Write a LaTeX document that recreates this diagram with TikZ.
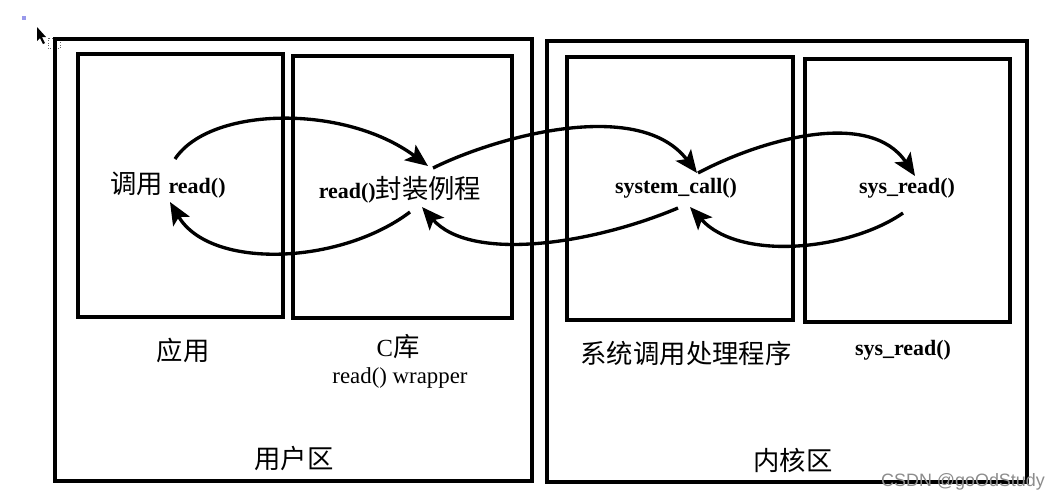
\documentclass[tikz,border=0pt]{standalone}
\usepackage{fontspec}
\setmainfont{Liberation Serif}
\newfontfamily\cjk{Noto Sans CJK SC}
\newfontfamily\wmfont{Liberation Sans}
\usetikzlibrary{arrows.meta}
\begin{document}
\begin{tikzpicture}[x=0.02cm,y=-0.02cm,
  frame/.style={draw=black, line width=1.9pt},
  lbl/.style={inner sep=0pt, font=\fontsize{12.5}{14}\selectfont\bfseries},
  cn/.style={inner sep=0pt, font=\fontsize{15}{17}\selectfont\cjk},
  flow/.style={line width=1.9pt, -{Stealth[length=0.45cm,width=0.38cm,inset=0.1cm]}},
]
\fill[white] (0,0) rectangle (1060,501);
\useasboundingbox (0,0) rectangle (1060,501);

% cursor artefact
\fill[black!20!blue!40] (22,16) rectangle (26,20);
\fill[black] (37,27) -- (37,41) -- (40,38) -- (43,44) -- (45,43) -- (42,37) -- (46,37) -- cycle;
\draw[densely dotted, black!60] (48,38) rectangle (60,48);

% frames
\draw[frame] (55,39) rectangle (532,481);
\draw[frame] (78,54) rectangle (283,317);
\draw[frame] (293,56) rectangle (512,318);
\draw[frame] (547,41) rectangle (1027,482);
\draw[frame] (567,57) rectangle (793,320);
\draw[frame] (805,59) rectangle (1010,322);

% labels inside boxes
\node[lbl] (call) at (168,185) {{\cjk\mdseries\fontsize{15}{17}\selectfont 调用} read()};
\node[lbl] (wrap) at (400,190) {read(){\cjk\mdseries\fontsize{15}{17}\selectfont 封装例程}};
\node[lbl] (sc) at (676,188) {system\_call()};
\node[lbl] (sr) at (907,188) {sys\_read()};

% captions
\node[cn] (app) at (183,350) {应用};
\node[cn] (clib) at (398,347) {{\rmfamily\fontsize{14}{16}\selectfont C}库};
\node[inner sep=0pt, font=\fontsize{13}{15}\selectfont] (wrapper) at (400,378) {read() wrapper};
\node[cn] (sch) at (686,353) {系统调用处理程序};
\node[lbl] (srl) at (903,350) {sys\_read()};
\node[cn] (user) at (294,458) {用户区};
\node[cn] (kern) at (793,460) {内核区};
\node[inner sep=0pt, text=black!45, font=\fontsize{10.2}{12}\selectfont\wmfont] (wm) at (963,482) {CSDN @goOdStudy};

% connector end points
\coordinate (a1s) at (175,159); \coordinate (a1e) at (428,166);
\coordinate (a2s) at (433,168); \coordinate (a2e) at (697,173);
\coordinate (a3s) at (698,173); \coordinate (a3e) at (915,176);
\coordinate (a4s) at (903,213); \coordinate (a4e) at (690,207);
\coordinate (a5s) at (678,208); \coordinate (a5e) at (422,207);
\coordinate (a6s) at (410,212); \coordinate (a6e) at (170,202);

\draw[flow] (a1s) .. controls (210,106) and (345,104) .. (a1e);
\draw[flow] (a2s) .. controls (500,135) and (640,98) .. (a2e);
\draw[flow] (a3s) .. controls (760,140) and (870,108) .. (a3e);
\draw[flow] (a4s) .. controls (850,250) and (740,262) .. (a4e);
\draw[flow] (a5s) .. controls (590,245) and (470,262) .. (a5e);
\draw[flow] (a6s) .. controls (340,265) and (210,270) .. (a6e);
\end{tikzpicture}
\end{document}
